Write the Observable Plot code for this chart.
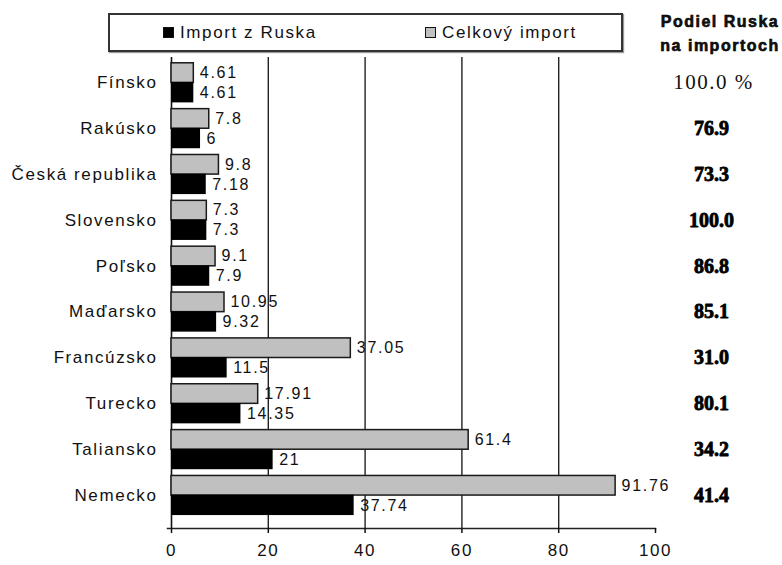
<!DOCTYPE html>
<html lang="sk">
<head>
<meta charset="utf-8">
<script src="https://cdn.jsdelivr.net/npm/d3@7"></script>
<script src="https://cdn.jsdelivr.net/npm/@observablehq/plot@0.6"></script>
<style>
  html, body { margin: 0; padding: 0; background: #fff; overflow: hidden; }
  #wrap { width: 782px; height: 565px; position: relative; font-family: "Liberation Sans", Arial, sans-serif; color: #111; }
  #header { position: relative; height: 56px; }
  .legend { position: absolute; left: 108px; top: 13px; width: 511px; height: 35px;
            border: 2px solid #333; box-shadow: 1px 1px 1px #999; background: #fff; }
  .legend .item { position: absolute; top: 0; height: 35px; display: flex; align-items: center;
                  font-size: 17px; letter-spacing: 1.6px; }
  .legend .sw { width: 9px; height: 9px; border: 1.5px solid #111; margin-right: 6px; }
  .share-head { position: absolute; left: 658px; top: 10px; width: 124px; text-align: center;
                font-weight: bold; font-size: 16px; line-height: 24px; letter-spacing: 1.5px;
                -webkit-text-stroke: 0.6px #000; }
  #chart g[aria-label="y-axis tick label"],
  #chart g[aria-label="x-axis tick label"] { letter-spacing: 1.6px; }
</style>
</head>
<body>
<div id="wrap">
  <div id="header"></div>
  <div id="chart"></div>
</div>
<script>
// Import of natural gas, in billions of m³, for selected European countries
const countries = ["Fínsko", "Rakúsko", "Česká republika", "Slovensko", "Poľsko",
                   "Maďarsko", "Francúzsko", "Turecko", "Taliansko", "Nemecko"];
const importRussia = [4.61, 6, 7.18, 7.3, 7.9, 9.32, 11.5, 14.35, 21, 37.74];
const importTotal  = [4.61, 7.8, 9.8, 7.3, 9.1, 10.95, 37.05, 17.91, 61.4, 91.76];
// Russia's share of the imports, in percent
const russiaShare  = [100.0, 76.9, 73.3, 100.0, 86.8, 85.1, 31.0, 80.1, 34.2, 41.4];
const xTicks = [0, 20, 40, 60, 80, 100];
const seriesNames = ["Import z Ruska", "Celkový import"];
const seriesColors = ["#000000", "#c0c0c0"];
const shareTitle = ["Podiel Ruska", "na importoch"];

const rows = countries.map((country, i) => ({
  country, i,
  russia: importRussia[i],
  total: importTotal[i],
  share: russiaShare[i]
}));

// Legend box and the heading of the share column
const header = document.getElementById("header");
const legend = document.createElement("div");
legend.className = "legend";
const itemLeft = [53, 315];
seriesNames.forEach((name, k) => {
  const item = document.createElement("div");
  item.className = "item";
  item.style.left = itemLeft[k] + "px";
  const sw = document.createElement("span");
  sw.className = "sw";
  sw.style.background = seriesColors[k];
  item.appendChild(sw);
  item.appendChild(document.createTextNode(name));
  legend.appendChild(item);
});
header.appendChild(legend);
const head = document.createElement("div");
head.className = "share-head";
head.innerHTML = shareTitle.join("<br>");
header.appendChild(head);

const valueLabel = { dx: 6, textAnchor: "start", fontSize: 16, fill: "#111" };

const chart = Plot.plot({
  width: 782,
  height: 509,
  marginTop: 1,
  marginBottom: 37,
  marginLeft: 171,
  marginRight: 127,
  style: { fontFamily: "Liberation Sans, Arial, sans-serif", color: "#111", background: "#fff" },
  x: { domain: [0, 100] },
  y: { domain: countries, paddingInner: 0.12, paddingOuter: 0.196, align: 0.28, round: false, label: null },
  marks: [
    Plot.ruleX(xTicks.filter(d => d > 0 && d < 100), { stroke: "#222", strokeWidth: 1.4 }),
    Plot.ruleX([0], { stroke: "#111", strokeWidth: 1.6 }),
    Plot.frame({ anchor: "bottom", stroke: "#222", strokeWidth: 1.5, insetLeft: -4 }),
    // total import: upper grey bar in each band
    Plot.barX(rows, { x: "total", y: "country", fill: seriesColors[1], stroke: "#1a1a1a",
                      strokeWidth: 1.5, insetTop: 0.75, insetBottom: 20 }),
    // import from Russia: lower black bar
    Plot.barX(rows, { x: "russia", y: "country", fill: seriesColors[0], insetTop: 20 }),
    Plot.text(rows, { ...valueLabel, x: "total", y: "country", text: d => String(d.total), dy: -10 }),
    Plot.text(rows, { ...valueLabel, x: "russia", y: "country", text: d => String(d.russia), dy: 10 }),
    // share column on the right
    Plot.text(rows.filter(d => d.i === 0), { y: "country", frameAnchor: "right", dx: 58,
                      text: d => d.share.toFixed(1) + " %", textAnchor: "middle",
                      fontFamily: "Liberation Serif, Times New Roman, serif", fontSize: 21, fill: "#111" }),
    Plot.text(rows.filter(d => d.i > 0), { y: "country", frameAnchor: "right", dx: 56,
                      text: d => d.share.toFixed(1), textAnchor: "middle",
                      fontFamily: "Liberation Serif, Times New Roman, serif", fontSize: 20,
                      fontWeight: "bold", fill: "#000", stroke: "#000", strokeWidth: 0.8 }),
    Plot.axisY({ tickSize: 0, tickPadding: 14, fontSize: 17 }),
    Plot.axisX({ ticks: xTicks, tickSize: 5, tickPadding: 10, fontSize: 17, strokeWidth: 1.5 })
  ]
});

// spacing of the text marks: value labels are widely spaced, the first share slightly
const textGroups = chart.querySelectorAll('g[aria-label="text"]');
if (textGroups.length >= 3) {
  textGroups[0].style.letterSpacing = "1.7px";
  textGroups[1].style.letterSpacing = "1.7px";
  textGroups[2].style.letterSpacing = "1.5px";
}
document.getElementById("chart").appendChild(chart);
</script>
</body>
</html>
